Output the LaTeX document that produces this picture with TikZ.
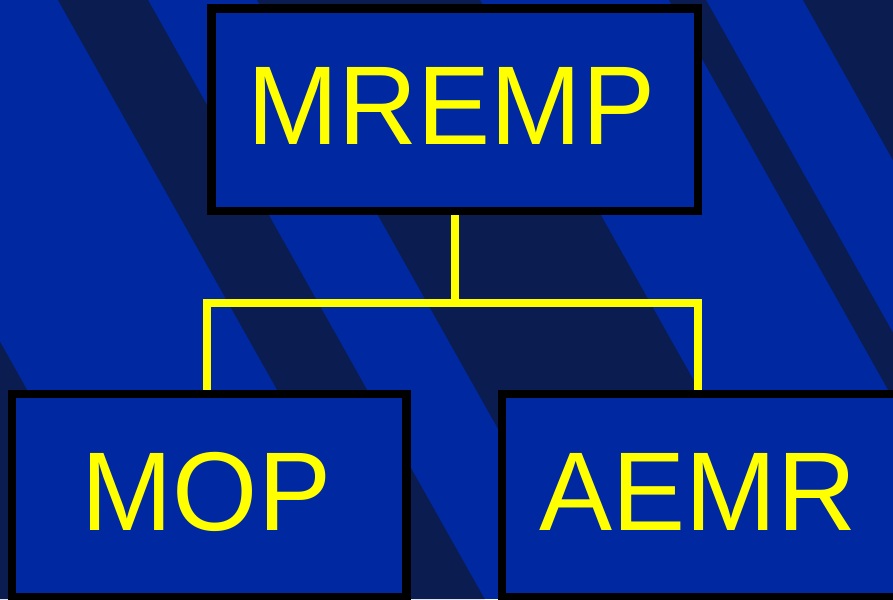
\documentclass[tikz,border=0pt]{standalone}
\usepackage{fontspec}
\setmainfont{Liberation Sans}
\usetikzlibrary{calc}
\definecolor{bgblue}{RGB}{0,40,160}
\definecolor{navy}{RGB}{10,28,80}
\definecolor{ylw}{RGB}{255,255,0}
\newcommand{\lblsq}[1]{\scalebox{0.978}[1]{#1}}
\begin{document}
\begin{tikzpicture}[x=1pt,y=-1pt,
  box/.style={draw=black, line width=8.3pt, fill=bgblue, inner sep=0pt},
  lbl/.style={text=ylw, font=\fontsize{112}{112}\selectfont, inner sep=0pt, anchor=base},
  conn/.style={draw=ylw, line width=8pt, line join=miter},
  stripe/.style={fill=navy}]
\useasboundingbox (0,0) rectangle (893,599);
\begin{scope}
\clip (0,0) rectangle (893,599);
\fill[bgblue] (0,0) rectangle (893,599);
\foreach \l/\r in {-500/-192, 58/148, 257/480, 669/706, 803/1100}
  \fill[stripe] (\l,0) -- (\r,0) -- ({\r+336.6},599) -- ({\l+336.6},599) -- cycle;
% box positions
\coordinate (j) at (455,302.7);
\coordinate (lj) at (207.2,302.7);
\coordinate (rj) at (697.7,302.7);
\node[box, draw=none, fill=none, minimum width=486.3pt, minimum height=202.4pt] (top) at (454.65,109.7) {};
\node[box, draw=none, fill=none, minimum width=394.7pt, minimum height=202.5pt] (mop) at (209.25,495.45) {};
\node[box, draw=none, fill=none, minimum width=410pt, minimum height=202.5pt] (aemr) at (707.2,495.45) {};
% connectors
\draw[conn] (j |- top.south) -- (j);
\draw[conn] (lj |- mop.north) -- (lj) -- (rj) -- (rj |- aemr.north);
% visible boxes
\node[box, minimum width=486.3pt, minimum height=202.4pt] (topbox) at (top) {};
\node[box, minimum width=394.7pt, minimum height=202.5pt] (mopbox) at (mop) {};
\node[box, minimum width=410pt, minimum height=202.5pt] (aemrbox) at (aemr) {};
% labels
\node[lbl] (t1) at ($(top.center)+(-3.25,34.3)$) {\lblsq{MREMP}};
\node[lbl] (t2) at ($(mop.center)+(-2.75,34.55)$) {\lblsq{MOP}};
\node[lbl] (t3) at ($(aemr.center)+(-9.2,34.55)$) {\lblsq{AEMR}};
\end{scope}
\end{tikzpicture}
\end{document}
